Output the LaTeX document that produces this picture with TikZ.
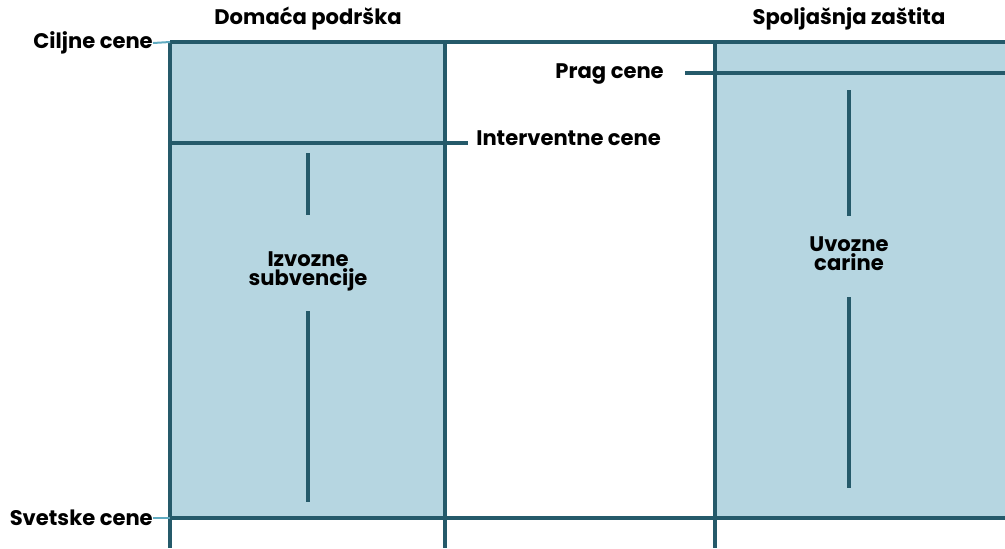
\documentclass[tikz,border=0pt]{standalone}
\usepackage{fontspec}
\setmainfont{Poppins}[BoldFont={Poppins Bold}]
\usepackage{xcolor}
\usetikzlibrary{positioning, calc}
\definecolor{darkteal}{RGB}{37,90,106}
\definecolor{paleblue}{RGB}{182,214,225}
\definecolor{ticklight}{RGB}{95,170,192}

\begin{document}
\begin{tikzpicture}[
    x=0.025cm, y=-0.025cm,
    frame/.style={draw=darkteal, line width=0.1cm},
    marker/.style={draw=darkteal, line width=0.09cm},
    tick/.style={draw=ticklight, line width=0.05cm},
    lbl/.style={font=\bfseries\fontsize{15}{16}\selectfont, inner sep=0pt, text=black},
    boxlbl/.style={lbl, align=center, font=\bfseries\fontsize{15}{13.5}\selectfont},
]
    \useasboundingbox (0,0) rectangle (1005,548);
    % shaded areas
    \fill[paleblue] (170,42) rectangle (445,518);
    \fill[paleblue] (715,42) rectangle (1005,518);

    \coordinate (tl) at (170,42);
    \coordinate (bl) at (170,518);
    \coordinate (tr) at (1005,42);
    \coordinate (br) at (1005,518);

    % frame lines
    \draw[frame] (tl) -- (tr);
    \draw[frame] (bl) -- (br);
    \draw[frame] (170,42) -- (170,548);
    \draw[frame] (445,42) -- (445,548);
    \draw[frame] (715,42) -- (715,548);
    \draw[frame] (170,143) -- (468,143);
    \draw[frame] (685,73) -- (1005,73);

    % headings
    \node[lbl] (domaca) at (308,19) {Domaća podrška};
    \node[lbl] (spolj) at (849,19) {Spoljašnja zaštita};

    % price labels
    \node[lbl, anchor=east] (ciljne) at (153,43) {Ciljne cene};
    \node[lbl, anchor=east] (svetske) at (153,518) {Svetske cene};
    \node[lbl, anchor=east] (prag) at (664,74) {Prag cene};
    \node[lbl, anchor=west] (interv) at (476,138) {Interventne cene};
    \draw[tick] (ciljne.east) -- (tl);
    \draw[tick] (svetske.east) -- (bl);

    % box labels
    \node[boxlbl] (izvoz) at (308,271) {Izvozne\\subvencije};
    \node[boxlbl] (uvoz) at (849,254) {Uvozne\\carine};
    \draw[marker] (308,153) -- (308,215);
    \draw[marker] (308,311) -- (308,502);
    \draw[marker] (849,90) -- (849,216);
    \draw[marker] (849,297) -- (849,488);
\end{tikzpicture}
\end{document}
